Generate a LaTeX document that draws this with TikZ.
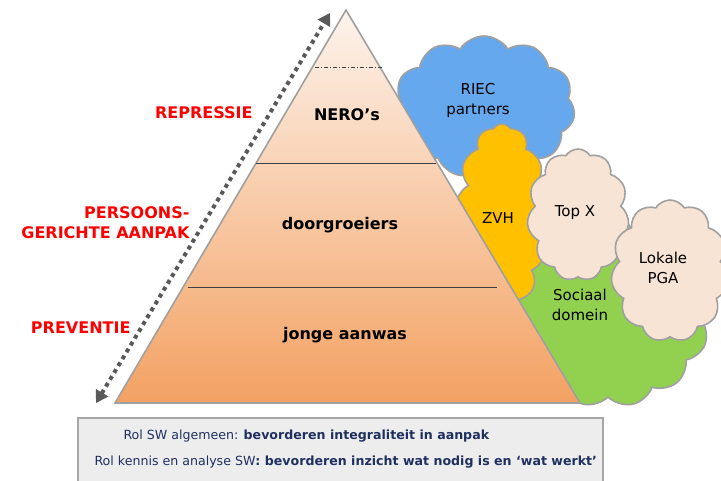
\documentclass[tikz,border=0pt]{standalone}
\usepackage{fontspec}
\setmainfont{DejaVu Sans}
\usetikzlibrary{shapes.symbols,arrows.meta}
\definecolor{cblue}{HTML}{66A8EE}
\definecolor{corange}{HTML}{FFC000}
\definecolor{cbeige}{HTML}{F7E4D4}
\definecolor{cgreen}{HTML}{92D050}
\definecolor{cedge}{HTML}{A0A0A0}
\definecolor{navy}{HTML}{1F3060}
\definecolor{ptop}{HTML}{FDF3EC}
\definecolor{pbot}{HTML}{F3A162}
\tikzset{
  cloudnode/.style={cloud, cloud ignores aspect, draw=cedge, line width=1.6pt, cloud puffs=#1, cloud puff arc=115, inner sep=0pt, align=center, font=\fontsize{15}{17}\selectfont, text=black!90},
  layerlabel/.style={font=\fontsize{16}{18}\selectfont\bfseries, text=black},
  sidelabel/.style={font=\fontsize{16}{20}\selectfont\bfseries, text=red, align=right, anchor=east},
  sepline/.style={draw=black!75, line width=0.8pt},
}
\begin{document}
\begin{tikzpicture}[x=1pt,y=-1pt]
\useasboundingbox (0,0) rectangle (721,480);
% clouds (behind pyramid)
\node[cloudnode=11, fill=cblue, minimum width=182pt, minimum height=142pt] (riec) at (484,107) {};
\node[cloudnode=13, fill=cgreen, minimum width=207pt, minimum height=192pt] (soc) at (608,311) {};
\node[cloudnode=13, fill=corange, minimum width=94pt, minimum height=188pt] (zvh) at (502,218) {};
\node[cloudnode=11, fill=cbeige, minimum width=102pt, minimum height=132pt] (topx) at (578,215) {};
\node[cloudnode=11, fill=cbeige, minimum width=118pt, minimum height=142pt] (pga) at (670,271) {};
% cloud texts
\node[font=\fontsize{15}{20}\selectfont, align=center] (triec) at (478,100) {RIEC\\partners};
\node[font=\fontsize{15}{20}\selectfont] (tzvh) at (498,218) {ZVH};
\node[font=\fontsize{15}{20}\selectfont] (ttopx) at (575,213) {Top X};
\node[font=\fontsize{15}{20}\selectfont, align=center] (tpga) at (663,268) {Lokale\\PGA};
\node[font=\fontsize{15}{20}\selectfont, align=center] (tsoc) at (580,305) {Sociaal\\domein};
% pyramid
\coordinate (apex) at (346,10);
\coordinate (bl) at (115,403);
\coordinate (br) at (580,403);
\path[top color=ptop, bottom color=pbot, draw=cedge, line width=1.6pt, line join=miter] (apex) -- (br) -- (bl) -- cycle;
\coordinate (d1) at (315,67); \coordinate (d2) at (383,67);
\coordinate (a1) at (256,163); \coordinate (a2) at (436,163);
\coordinate (b1) at (188,287); \coordinate (b2) at (497,287);
\draw[sepline, dash pattern=on 4pt off 2pt on 1pt off 2pt] (d1) -- (d2);
\draw[sepline] (a1) -- (a2);
\draw[sepline] (b1) -- (b2);
\node[layerlabel] (nero) at (347,115) {NERO’s};
\node[layerlabel] (door) at (340,225) {doorgroeiers};
\node[layerlabel] (jong) at (345,335) {jonge aanwas};
% dotted arrow
\coordinate (arA) at (96,403);
\coordinate (arB) at (330,13);
\draw[black!65, line width=4pt, dash pattern=on 4pt off 4pt, {Triangle[length=12pt,width=14pt]}-{Triangle[length=12pt,width=14pt]}] (arA) -- (arB);
% side labels
\node[sidelabel] (rep) at (256,113) {REPRESSIE};
\node[sidelabel] (pers) at (193,223) {PERSOONS-\\GERICHTE AANPAK};
\node[sidelabel] (prev) at (134,328) {PREVENTIE};
% bottom box
\path[fill=black!7, draw=black!35, line width=1.6pt] (78,418) rectangle (603,484);
\node[anchor=west, text=navy, font=\fontsize{12.6}{14}\selectfont] (l1) at (120,436) {Rol SW algemeen: \textbf{bevorderen integraliteit in aanpak}};
\node[anchor=west, text=navy, font=\fontsize{12.6}{14}\selectfont] (l2) at (91,462) {Rol kennis en analyse SW\textbf{: bevorderen inzicht wat nodig is en ‘wat werkt’}};
\end{tikzpicture}
\end{document}
